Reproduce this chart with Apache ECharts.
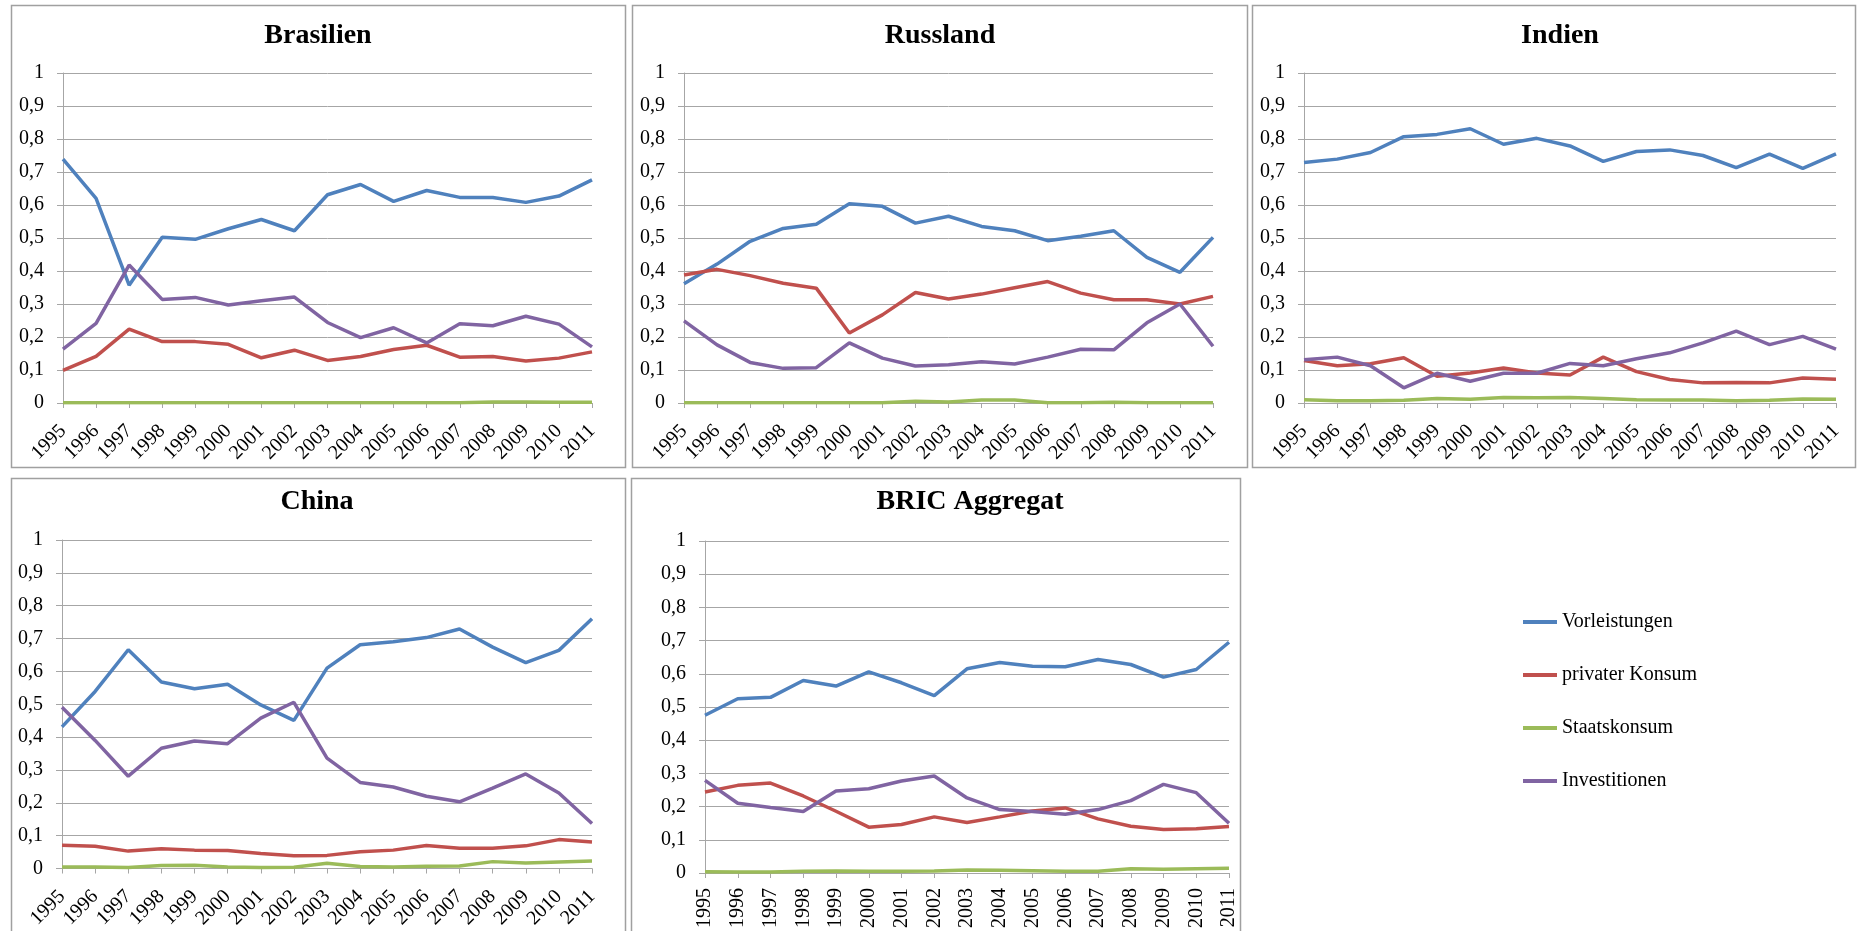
<!DOCTYPE html>
<html>
<head>
<meta charset="utf-8">
<script src="https://cdn.jsdelivr.net/npm/echarts@6/dist/echarts.min.js"></script>
<style>
html,body{margin:0;padding:0;background:#fff;}
#chart{width:1861px;height:931px;}
</style>
</head>
<body>
<div id="chart"></div>
<script>
const years = ['1995','1996','1997','1998','1999','2000','2001','2002','2003','2004','2005','2006','2007','2008','2009','2010','2011'];
const seriesNames = ['Vorleistungen','privater Konsum','Staatskonsum','Investitionen'];
const panelTitles = ['Brasilien','Russland','Indien','China','BRIC Aggregat'];

// Brasilien
const braVorleistungen = [0.739,0.620,0.357,0.502,0.496,0.528,0.556,0.522,0.631,0.662,0.611,0.644,0.623,0.623,0.608,0.627,0.676];
const braPrivaterKonsum = [0.099,0.141,0.224,0.186,0.186,0.178,0.137,0.160,0.129,0.141,0.162,0.175,0.139,0.141,0.127,0.136,0.155];
const braStaatskonsum = [0.001,0.001,0.001,0.001,0.001,0.001,0.001,0.001,0.001,0.001,0.001,0.001,0.001,0.003,0.003,0.002,0.002];
const braInvestitionen = [0.163,0.241,0.418,0.314,0.320,0.297,0.310,0.321,0.244,0.198,0.228,0.182,0.240,0.234,0.263,0.239,0.170];

// Russland
const rusVorleistungen = [0.361,0.421,0.490,0.529,0.542,0.604,0.596,0.545,0.566,0.535,0.522,0.492,0.505,0.522,0.441,0.396,0.502];
const rusPrivaterKonsum = [0.388,0.405,0.386,0.363,0.348,0.212,0.267,0.335,0.315,0.330,0.349,0.368,0.333,0.313,0.313,0.300,0.323];
const rusStaatskonsum = [0.001,0.001,0.001,0.001,0.001,0.001,0.001,0.005,0.003,0.009,0.009,0.001,0.001,0.002,0.001,0.001,0.001];
const rusInvestitionen = [0.249,0.176,0.123,0.105,0.107,0.182,0.136,0.112,0.116,0.125,0.118,0.139,0.163,0.161,0.243,0.300,0.172];

// Indien
const indVorleistungen = [0.729,0.739,0.759,0.807,0.814,0.831,0.784,0.802,0.779,0.732,0.762,0.767,0.750,0.713,0.754,0.711,0.755];
const indPrivaterKonsum = [0.129,0.113,0.119,0.137,0.081,0.091,0.106,0.091,0.085,0.139,0.095,0.071,0.061,0.062,0.061,0.076,0.072];
const indStaatskonsum = [0.010,0.007,0.007,0.008,0.014,0.011,0.017,0.016,0.017,0.014,0.010,0.009,0.009,0.007,0.008,0.012,0.011];
const indInvestitionen = [0.131,0.139,0.113,0.046,0.090,0.066,0.090,0.090,0.120,0.113,0.134,0.152,0.182,0.218,0.177,0.202,0.163];

// China
const chnVorleistungen = [0.431,0.539,0.666,0.568,0.547,0.561,0.498,0.451,0.610,0.681,0.690,0.703,0.729,0.674,0.627,0.664,0.760];
const chnPrivaterKonsum = [0.071,0.068,0.053,0.060,0.056,0.055,0.046,0.039,0.040,0.051,0.056,0.070,0.062,0.062,0.069,0.088,0.081];
const chnStaatskonsum = [0.005,0.005,0.003,0.009,0.010,0.005,0.003,0.004,0.016,0.006,0.005,0.007,0.008,0.021,0.017,0.020,0.023];
const chnInvestitionen = [0.491,0.390,0.281,0.366,0.388,0.380,0.458,0.506,0.336,0.262,0.248,0.220,0.203,0.245,0.288,0.230,0.137];

// BRIC Aggregat
const bricVorleistungen = [0.475,0.525,0.529,0.580,0.563,0.606,0.573,0.534,0.615,0.634,0.623,0.621,0.643,0.628,0.590,0.613,0.695];
const bricPrivaterKonsum = [0.244,0.264,0.271,0.232,0.186,0.138,0.146,0.169,0.152,0.169,0.187,0.196,0.163,0.141,0.131,0.133,0.140];
const bricStaatskonsum = [0.004,0.003,0.003,0.005,0.006,0.005,0.005,0.006,0.009,0.008,0.007,0.005,0.005,0.013,0.011,0.013,0.014];
const bricInvestitionen = [0.279,0.210,0.197,0.185,0.247,0.254,0.277,0.292,0.226,0.191,0.185,0.177,0.191,0.218,0.267,0.242,0.150];

const yTicks = ['0','0,1','0,2','0,3','0,4','0,5','0,6','0,7','0,8','0,9','1'];

const panelData = [
  [braVorleistungen, braPrivaterKonsum, braStaatskonsum, braInvestitionen],
  [rusVorleistungen, rusPrivaterKonsum, rusStaatskonsum, rusInvestitionen],
  [indVorleistungen, indPrivaterKonsum, indStaatskonsum, indInvestitionen],
  [chnVorleistungen, chnPrivaterKonsum, chnStaatskonsum, chnInvestitionen],
  [bricVorleistungen, bricPrivaterKonsum, bricStaatskonsum, bricInvestitionen]
];

const colors = ['#4F81BD','#C0504D','#9BBB59','#8064A2'];
const FONT = '"Liberation Serif", "Times New Roman", serif';
const gridColor = '#a6a6a6';

const grids = [
  {left: 63, top: 73, width: 529, height: 330},
  {left: 684, top: 73, width: 529, height: 330},
  {left: 1304, top: 73, width: 532, height: 330},
  {left: 62, top: 540, width: 530, height: 329},
  {left: 705, top: 541, width: 524, height: 332}
];
const xRotate = [45, 45, 45, 45, 90];
const titlePos = [[318, 36], [940, 36], [1560, 36], [317, 502], [970, 502]];
const panels = [
  [11, 5, 614, 462],
  [632, 5, 615, 462],
  [1252, 5, 603, 462],
  [11, 478, 614, 520],
  [631, 478, 609, 520]
];

const xAxes = [], yAxes = [], series = [];
grids.forEach((g, i) => {
  xAxes.push({
    gridIndex: i, type: 'category', data: years, boundaryGap: false,
    axisLine: {lineStyle: {color: gridColor, width: 1}},
    axisTick: {show: true, length: 5, lineStyle: {color: gridColor}, interval: 0},
    axisLabel: {interval: 0, rotate: xRotate[i], margin: xRotate[i] === 90 ? 15 : 25,
      fontFamily: FONT, fontSize: 20, color: '#000'},
    splitLine: {show: false}
  });
  yAxes.push({
    gridIndex: i, type: 'value', min: 0, max: 1, interval: 0.1,
    axisLine: {show: true, lineStyle: {color: gridColor, width: 1}},
    axisTick: {show: true, length: 6, lineStyle: {color: gridColor}},
    axisLabel: {margin: 19, fontFamily: FONT, fontSize: 20, color: '#000',
      formatter: (v) => yTicks[Math.round(v * 10)]},
    splitLine: {show: true, lineStyle: {color: gridColor, width: 1}}
  });
  panelData[i].forEach((arr, k) => {
    series.push({
      name: seriesNames[k], type: 'line', xAxisIndex: i, yAxisIndex: i,
      data: arr, symbol: 'none', smooth: false, animation: false,
      lineStyle: {color: colors[k], width: 3.5}, itemStyle: {color: colors[k]}
    });
  });
});

const graphics = [];
panels.forEach(p => {
  graphics.push({type: 'rect', silent: true, z: -10,
    shape: {x: p[0] + 0.5, y: p[1] + 0.5, width: p[2], height: p[3]},
    style: {fill: 'none', stroke: '#a0a0a0', lineWidth: 1.5}});
});
panelTitles.forEach((t, i) => {
  graphics.push({type: 'text', silent: true, x: titlePos[i][0], y: titlePos[i][1],
    style: {text: t, fontFamily: FONT, fontWeight: 'bold', fontSize: 28, fill: '#000',
      textAlign: 'center', textVerticalAlign: 'middle'}});
});

const chart = echarts.init(document.getElementById('chart'), null, {renderer: 'canvas'});
chart.setOption({
  animation: false,
  backgroundColor: '#fff',
  grid: grids,
  xAxis: xAxes,
  yAxis: yAxes,
  series: series,
  legend: {
    data: seriesNames, orient: 'vertical', left: 1518, top: 607,
    icon: 'rect', itemWidth: 34, itemHeight: 4, itemGap: 33,
    textStyle: {fontFamily: FONT, fontSize: 20, color: '#000', lineHeight: 20},
    selectedMode: false
  },
  graphic: graphics
});
</script>
</body>
</html>
